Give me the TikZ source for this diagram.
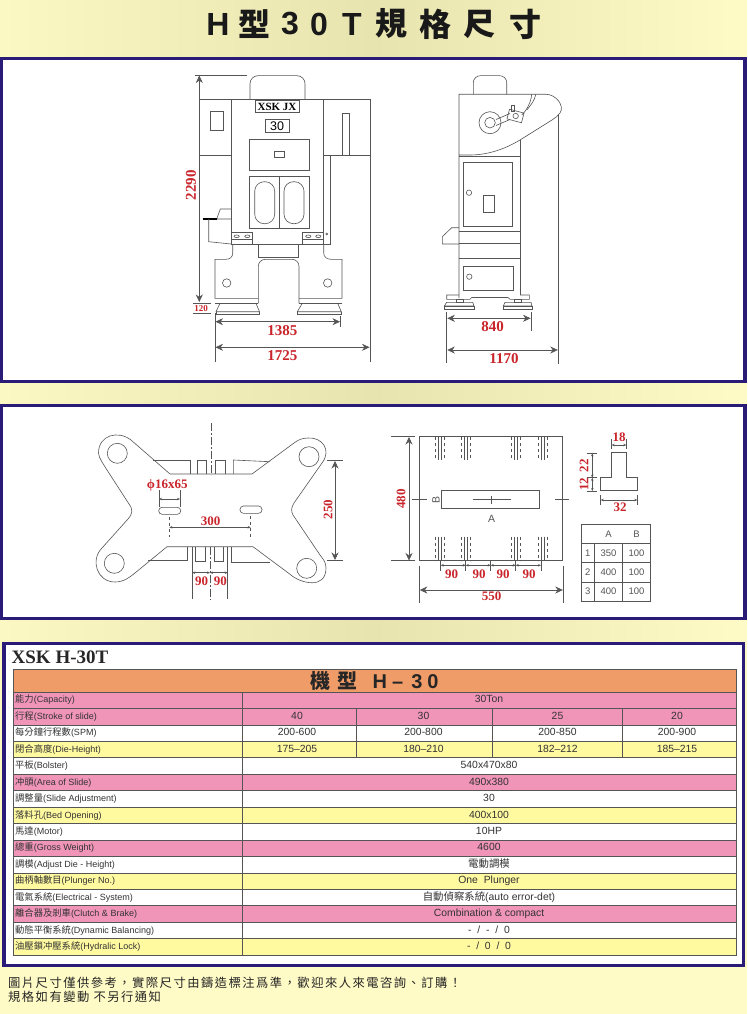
\documentclass[tikz,border=0pt]{standalone}
\usepackage{fontspec}
\usetikzlibrary{arrows.meta,positioning}
\setmainfont{Liberation Sans}
\newfontfamily\cjkfont{Noto Sans CJK TC}
\newfontfamily\cjkspaced[LetterSpace=12]{Noto Sans CJK TC}
\newfontfamily\dimfont{Liberation Serif}
\definecolor{bgpale}{HTML}{FCF8C4}
\definecolor{bgdull}{HTML}{E8E4B0}
\definecolor{bgbright}{HTML}{FFFBC6}
\definecolor{navy}{HTML}{2B1B78}
\definecolor{dimred}{HTML}{C9252B}
\definecolor{inkgray}{HTML}{555555}
\definecolor{rowhead}{HTML}{EF9C68}
\definecolor{rowpink}{HTML}{F094B8}
\definecolor{rowyellow}{HTML}{FFF9A0}
\definecolor{rowwhite}{HTML}{FFFFFF}
\begin{document}
\begin{tikzpicture}[x=1pt,y=-1pt,
  panel/.style={draw=navy,line width=3.4pt,fill=white},
  part/.style={draw=inkgray,line width=0.6pt},
  thin dim/.style={draw=inkgray,line width=0.5pt},
  bigarr/.style={draw=inkgray,line width=0.6pt,{Stealth[length=7.5pt,width=7pt]}-{Stealth[length=7.5pt,width=7pt]}},
  smallarr/.style={draw=inkgray,line width=0.5pt,{Stealth[length=3pt,width=2.5pt]}-{Stealth[length=3pt,width=2.5pt]}},
  dimtxt/.style={font=\dimfont\fontsize{13}{13}\selectfont\bfseries,text=dimred,inner sep=0pt},
  bigdim/.style={font=\dimfont\fontsize{15}{15}\selectfont\bfseries,text=dimred,inner sep=0pt},
  titlech/.style={font=\fontsize{32}{32}\selectfont\bfseries,text=black!90,inner sep=0pt},
  cell/.style={font=\fontsize{10.4}{10.4}\selectfont,text=black!80,inner sep=0pt,text height=7.5pt,text depth=2pt},
  rowlab/.style={font=\fontsize{9}{9}\selectfont,text=black!80,inner sep=0pt,anchor=west,text height=7.5pt,text depth=2pt},
  smallcell/.style={font=\fontsize{9.5}{9.5}\selectfont,text=inkgray,inner sep=0pt}
]
\useasboundingbox (0,0) rectangle (747,1014);

% Page background and the bands between the panels
\fill[bgpale] (0,0) rectangle (747,1014);
\shade[left color=bgpale,right color=bgbright,middle color=bgdull] (0,0) rectangle (747,57);
\shade[left color=bgpale,right color=bgbright,middle color=bgdull] (0,382) rectangle (747,406);
\shade[left color=bgpale,right color=bgbright,middle color=bgdull] (0,618) rectangle (747,644);
\fill[bgbright] (0,966) rectangle (747,1014);

% Title, one character at a time
\foreach \tx/\tc in {218/H,290/3,319/0,352/T}
  \node[titlech] (title\tx) at (\tx,24) {\tc};
\foreach \tx/\tc in {254/型,391/規,435/格,479/尺,525/寸}
  \node[titlech,font=\cjkfont\fontsize{32}{32}\selectfont\bfseries] (title\tx) at (\tx,24) {\tc};

% Three panels
\draw[panel] (1.5,58.5) rectangle (745,381.5);
\draw[panel] (1.5,405.5) rectangle (745,618.5);
\draw[panel] (4,643.5) rectangle (743.5,965.5);

% Front view: frame
\draw[part,rounded corners=8pt] (250,99.3) -- (250,75.7) -- (305,75.7) -- (305,99.3);
\draw[part] (199.3,99.3) rectangle (370,155.7);
\draw[part,fill=white] (231,99.3) rectangle (323.7,244);
\draw[part,fill=white] (255,100.5) rectangle (299,112.3);
\node[font=\dimfont\fontsize{11}{11}\selectfont\bfseries,inner sep=0pt] (frontbrand) at (277,106.5) {XSK JX};
\draw[part] (265,119.3) rectangle (289.3,132.7);
\node[font=\fontsize{12.5}{12.5}\selectfont,inner sep=0pt] (fronttons) at (277,126) {30};
\draw[part] (210.7,111) rectangle (223.3,130.3);
\draw[part] (342,113.3) rectangle (349.7,155.7);
\draw[part] (249,139.3) rectangle (309.3,170);
\draw[part] (274,151.3) rectangle (284.7,157.3);
\draw[part] (249,176.7) rectangle (309.3,228);
\draw[part] (279,176.7) -- (279,228);
\draw[part,rounded corners=9.5pt] (254.7,181.7) rectangle (274.7,223.7);
\draw[part,rounded corners=9.5pt] (284,181.7) rectangle (304,223.7);
\draw[part] (330.7,155.7) -- (330.7,244) -- (323.7,244);

% Front view: console on the left side
\draw[part] (231,209) -- (220.3,209) -- (216.7,219) -- (231,219);
\draw[draw=black,line width=1.4pt] (202.7,219) -- (216.7,219);
\draw[part] (208.7,219) -- (208.7,241.7) -- (231,244);

% Front view: clamp boxes and their studs
\draw[part] (231,232.7) rectangle (252.7,244);
\draw[part] (231,239) -- (252.7,239);
\draw[part] (302.3,232.7) rectangle (323.7,244);
\draw[part] (302.3,239) -- (323.7,239);
\foreach \sx in {236.7,247.3,308.3,318.3}
  \draw[part] (\sx,236.3) ellipse (2.6pt and 1.3pt);
\draw[part] (326.7,234) circle (1pt);

% Front view: base with arch
\draw[part] (258.3,244) rectangle (298.3,257.3);
\draw[part] (232.7,244) -- (232.7,253) .. controls (232.7,257) and (230,259.3) .. (226,259.3) -- (215,259.3) -- (215,298.3) -- (258.3,298.3);
\draw[part] (323.7,244) -- (323.7,253) .. controls (323.7,257) and (327,259.3) .. (331,259.3) -- (342,259.3) -- (342,298.3) -- (299,298.3);
\draw[part,rounded corners=7pt] (258.3,303.3) -- (258.3,259.3) -- (299,259.3) -- (299,303.3);
\draw[part] (226.7,283) circle (4.2pt);
\draw[part] (327.7,283) circle (4.2pt);

% Front view: feet
\draw[part] (215,303.3) -- (258.3,303.3);
\draw[part] (299,303.3) -- (342,303.3);
\draw[part] (220,303.3) -- (216,311.7) -- (259.5,311.7) -- (256,303.3);
\draw[part] (302.3,303.3) -- (297.3,311.7) -- (341.3,311.7) -- (337.7,303.3);
\draw[part] (216,314) -- (259.5,314) -- (259.5,311.7);
\draw[part] (216,314) -- (216,311.7);
\draw[part] (297.3,314) -- (341.3,314) -- (341.3,311.7);
\draw[part] (297.3,314) -- (297.3,311.7);

% Front view: dimensions
\draw[thin dim] (195,75) -- (247,75);
\draw[bigarr] (199.3,75.5) -- (199.3,302);
\node[bigdim,rotate=90] (dimH) at (191,185) {2290};
\draw[thin dim] (192.7,303.3) -- (210.7,303.3);
\draw[thin dim] (192.7,313.3) -- (210.7,313.3);
\node[dimtxt,font=\dimfont\fontsize{9}{9}\selectfont\bfseries] (dimFoot) at (201,308.3) {120};
\draw[thin dim] (215,313) -- (215,362);
\draw[thin dim] (340,316) -- (340,327);
\draw[thin dim] (370,155.7) -- (370,362);
\draw[bigarr] (215.5,321.7) -- (340,321.7);
\draw[bigarr] (215.5,347.3) -- (369.5,347.3);
\node[bigdim] (dimFront) at (282.3,330.7) {1385};
\node[bigdim] (dimWide) at (282.3,356) {1725};

% Side view: body with flywheel
\draw[part,rounded corners=7pt] (473.3,94.3) -- (473.3,75.7) -- (506.7,75.7) -- (506.7,94.3);
\draw[part] (459,298) -- (459,94.3) -- (546,94.3) .. controls (556,94.3) and (565,106) .. (560,113) .. controls (558,116) and (555,118) .. (552,120) -- (520,140) .. controls (505,149) and (488,155) .. (470,155) -- (459,155);
\draw[part] (520,140) -- (520,295);
\draw[part] (490,122.7) circle (11pt);
\draw[part] (490,122.7) circle (5.3pt);
\draw[part] (496,119.5) -- (510,113.5);
\draw[part] (496,125.5) -- (510,119.5);
\draw[part,rotate around={-15:(515.5,116)}] (508,111) rectangle (523,121);
\draw[part] (515.7,116) circle (2.7pt);
\draw[part] (511.7,105) rectangle (514.3,111);
\draw[part] (521.7,115) .. controls (527,110) and (531,102) .. (531.7,94.3);
\draw[part] (526.7,110) .. controls (531,105) and (535,100) .. (535.7,94.3);
\draw[thin dim] (558.3,115) -- (558.3,364);

% Side view: doors and console
\draw[part] (459,156.7) -- (520,156.7);
\draw[part] (463.7,162.3) rectangle (512.7,226.7);
\draw[part] (469,192.7) circle (2.7pt);
\draw[part] (483.3,195.7) rectangle (494.7,212.7);
\draw[part] (459,231.7) -- (520,231.7);
\draw[part] (459,243.3) -- (520,243.3);
\draw[part] (459,258.3) -- (520,258.3);
\draw[part] (459,227.7) -- (451.7,227.7) -- (442.3,236.7) -- (442.3,244) -- (459,244);
\draw[part] (463.3,266) rectangle (513.3,290);
\draw[part] (469.3,276.7) circle (2.7pt);

% Side view: feet
\draw[part] (459,295) -- (446.7,295) -- (446.7,299.3) -- (470,299.3) -- (471.7,297.5) -- (508,297.5) -- (510,299.3) -- (529.3,299.3) -- (529.3,295) -- (520,295);
\draw[part] (456,299.3) rectangle (463.3,302.3);
\draw[part] (514.3,299.3) rectangle (521.7,302.3);
\draw[part] (446.7,302.3) -- (472.7,302.3) -- (474,306) -- (444.3,306) -- cycle;
\draw[part] (444.3,306) rectangle (474,309.3);
\draw[part] (505,302.3) -- (531,302.3) -- (532,306) -- (503.3,306) -- cycle;
\draw[part] (503.3,306) rectangle (532,309.3);

% Side view: dimensions
\draw[thin dim] (446.7,312) -- (446.7,363);
\draw[thin dim] (531,312) -- (531,331);
\draw[bigarr] (447.3,318.3) -- (530.5,318.3);
\draw[bigarr] (447.3,350) -- (557.8,350);
\node[bigdim] (dimSide) at (492.7,326.5) {840};
\node[bigdim] (dimDeep) at (504,359) {1170};

% Bolster plan: outline and corner holes
\draw[part] (170,474) -- (131,440)
  .. controls (118,430) and (98.5,435) .. (98.5,453)
  .. controls (98.7,458) and (104,465) .. (107,470)
  -- (129,504) .. controls (133,510) and (133,513) .. (128,519)
  -- (102,548) .. controls (90,560) and (97,582) .. (115,582)
  .. controls (124,582) and (130,577) .. (135,573)
  -- (167,546.7) -- (253,546.7) -- (291,575)
  .. controls (300,583) and (326,590) .. (326,568)
  .. controls (326,562) and (323,559) .. (320,555)
  -- (293,515) .. controls (291,511) and (291,508) .. (294,503)
  -- (322,463) .. controls (332,450) and (322,437) .. (308,438)
  .. controls (302,438) and (298,440) .. (294,443)
  -- (252,474) -- cycle;
\foreach \hx/\hy in {117.3/453.3,309/456.7,114.3/563.3,306.7/568.3}
  \draw[part] (\hx,\hy) circle (10pt);

% Bolster plan: inner pockets
\draw[part] (153.3,460) -- (190,460) -- (190,474);
\draw[part] (197.3,474) -- (197.3,460) -- (206.7,460) -- (206.7,474);
\draw[part] (215.7,474) -- (215.7,460) -- (225.3,460) -- (225.3,474);
\draw[part] (233.3,474) -- (233.3,460) -- (270,461.7);
\draw[part,dash pattern=on 8pt off 2pt on 2pt off 2pt] (211,423) -- (211,475);
\draw[part] (148.3,560.7) -- (187.3,560.7) -- (187.3,546.7);
\draw[part] (192.3,546.7) -- (192.3,599);
\draw[part] (195,546.7) -- (195,561.7) -- (205.7,561.7) -- (205.7,546.7);
\draw[part] (214.3,546.7) -- (214.3,561.7) -- (223.3,561.7) -- (223.3,546.7);
\draw[part] (227.7,546.7) -- (227.7,599);
\draw[part] (231.7,546.7) -- (231.7,562.7) -- (270,562.7);
\draw[part,dash pattern=on 8pt off 2pt on 2pt off 2pt] (210,546.7) -- (210,599);
\draw[part,rounded corners=3.4pt] (158.7,507.3) rectangle (180.7,514.3);
\draw[part,rounded corners=3.4pt] (240,506) rectangle (262,513.3);

% Bolster plan: dimensions
\node[dimtxt] (dimSlot) at (167.3,485.3) {ϕ16x65};
\draw[thin dim] (159,490) -- (159,506.7);
\draw[thin dim] (180,490) -- (180,506.7);
\draw[smallarr] (159,499) -- (180,499);
\draw[part,dashed] (169.3,516.7) -- (169.3,536.7);
\draw[part,dashed] (250.7,516) -- (250.7,536.7);
\draw[smallarr] (169.3,527.3) -- (250.7,527.3);
\node[dimtxt] (dimPitch) at (210.7,521) {300};
\draw[thin dim] (326.7,460.7) -- (342.7,460.7);
\draw[thin dim] (326.7,560) -- (342.7,560);
\draw[bigarr] (335,461) -- (335,560);
\node[dimtxt,rotate=90] (dimDrop) at (328,509.3) {250};
\draw[smallarr] (192.3,572.7) -- (210,572.7);
\draw[smallarr] (210,572.7) -- (227.7,572.7);
\node[dimtxt] (dimLeft) at (201.7,581.5) {90};
\node[dimtxt] (dimRight) at (220.3,581.5) {90};

% Table plan: plate with slot and T-groove marks
\draw[part] (419.3,436.7) rectangle (562.7,560.7);
\draw[part] (441.7,490) rectangle (539.3,508.7);
\draw[part] (473.3,499) -- (511,499);
\draw[part] (491.7,495.7) -- (491.7,504);
\draw[part] (412.3,499) -- (426.7,499);
\draw[part] (555,499) -- (569.3,499);
\node[font=\fontsize{10.5}{10.5}\selectfont,rotate=90,inner sep=0pt,text=inkgray] (labB) at (436,500) {B};
\node[font=\fontsize{10.5}{10.5}\selectfont,inner sep=0pt,text=inkgray] (labA) at (491.7,519) {A};
\foreach \gx in {440,466,516,542.3}{
  \draw[thin dim] (\gx-1.5,436.7) -- (\gx-1.5,460);
  \draw[thin dim] (\gx+1.5,436.7) -- (\gx+1.5,460);
  \draw[thin dim,dashed] (\gx-4.5,436.7) -- (\gx-4.5,460);
  \draw[thin dim,dashed] (\gx+4.5,436.7) -- (\gx+4.5,460);
  \draw[thin dim] (\gx-1.5,536.7) -- (\gx-1.5,560.7);
  \draw[thin dim] (\gx+1.5,536.7) -- (\gx+1.5,560.7);
  \draw[thin dim,dashed] (\gx-4.5,536.7) -- (\gx-4.5,560.7);
  \draw[thin dim,dashed] (\gx+4.5,536.7) -- (\gx+4.5,560.7);
}

% Table plan: dimensions
\draw[thin dim] (391,436.7) -- (415,436.7);
\draw[thin dim] (391,560.7) -- (415,560.7);
\draw[bigarr] (409,437) -- (409,560.5);
\node[dimtxt,rotate=90] (dimBed) at (401,499) {480};
\foreach \ex in {440.7,465.7,490.7,515.7,541}
  \draw[thin dim] (\ex,560.7) -- (\ex,570.7);
\draw[smallarr] (440.7,565.3) -- (465.7,565.3);
\draw[smallarr] (465.7,565.3) -- (490.7,565.3);
\draw[smallarr] (490.7,565.3) -- (515.7,565.3);
\draw[smallarr] (515.7,565.3) -- (541,565.3);
\foreach \tx in {451.7,479,503,529}
  \node[dimtxt] (dimGap\tx) at (\tx,574.5) {90};
\draw[thin dim] (419.3,565.7) -- (419.3,602.7);
\draw[thin dim] (563.3,565.7) -- (563.3,602.7);
\draw[bigarr] (419.8,590) -- (562.8,590);
\node[dimtxt] (dimBedW) at (491.7,596.5) {550};

% T-slot section
\draw[part] (611.7,452.3) -- (626.3,452.3) -- (626.3,477.3) -- (637.3,477.3) -- (637.3,490.7) -- (600.7,490.7) -- (600.7,477.3) -- (611.7,477.3) -- cycle;
\draw[thin dim] (611.7,439.3) -- (611.7,449.3);
\draw[thin dim] (626.3,439.3) -- (626.3,449.3);
\draw[smallarr] (611.7,445) -- (626.3,445);
\node[dimtxt] (dimNeck) at (619,437.3) {18};
\draw[thin dim] (586.7,453.3) -- (597.3,453.3);
\draw[thin dim] (586.7,477.7) -- (597.3,477.7);
\draw[thin dim] (586.7,491) -- (597.3,491);
\draw[smallarr] (592.3,453.3) -- (592.3,477.7);
\draw[smallarr] (592.3,477.7) -- (592.3,491);
\node[dimtxt,rotate=90] (dimUpper) at (584,465.7) {22};
\node[dimtxt,rotate=90] (dimLower) at (584,484.3) {12};
\draw[thin dim] (600.7,495) -- (600.7,505);
\draw[thin dim] (637.3,495) -- (637.3,505);
\draw[smallarr] (600.7,500) -- (637.3,500);
\node[dimtxt] (dimFlange) at (620,507.5) {32};

% Small size table
\draw[part] (581,524.3) rectangle (650.3,601);
\foreach \ly in {543.7,562.7,582}
  \draw[part] (581,\ly) -- (650.3,\ly);
\draw[part] (594.3,543.7) -- (594.3,601);
\draw[part] (622.7,543.7) -- (622.7,601);
\node[smallcell] (headA) at (608.5,534) {A};
\node[smallcell] (headB) at (636.5,534) {B};
\foreach \rn/\ry/\va in {1/553/350,2/572.4/400,3/591.5/400}{
  \node[smallcell] (sn\rn) at (587.7,\ry) {\rn};
  \node[smallcell] (sa\rn) at (608.5,\ry) {\va};
  \node[smallcell] (sb\rn) at (636.5,\ry) {100};
}

% Spec table: heading
\node[dimtxt,font=\dimfont\fontsize{19}{19}\selectfont\bfseries,text=black!85,anchor=west] (specname) at (11.5,657) {XSK H-30T};
\draw[part,fill=rowhead] (13,669) rectangle (736,692);
\node[font=\fontsize{20}{20}\selectfont\bfseries,inner sep=0pt,text=black!85,anchor=west] (spechead) at (310.5,681) {{\cjkfont\bfseries 機\hspace{7pt}型}\hspace{15pt}H\hspace{5pt}--\hspace{8pt}3\hspace{5pt}0};

% Spec table: sixteen rows
\foreach \r/\rowcol/\cjk/\eng/\val in {
  0/rowpink/能力/Capacity/30Ton,
  1/rowpink/行程/Stroke of slide/{},
  2/rowwhite/每分鐘行程數/SPM/{},
  3/rowyellow/閉合高度/Die-Height/{},
  4/rowwhite/平板/Bolster/540x470x80,
  5/rowpink/冲頭/Area of Slide/490x380,
  6/rowwhite/調整量/Slide Adjustment/30,
  7/rowyellow/落料孔/Bed Opening/400x100,
  8/rowwhite/馬達/Motor/10HP,
  9/rowpink/總重/Gross Weight/4600,
  10/rowwhite/調模/Adjust Die - Height/{\cjkfont 電動調模},
  11/rowyellow/曲柄軸數目/Plunger No./{One\ \ Plunger},
  12/rowwhite/電氣系統/Electrical - System/{{\cjkfont 自動偵察系統}(auto error-det)},
  13/rowpink/離合器及剎車/Clutch \& Brake/{Combination \& compact},
  14/rowwhite/動態平衡系統/Dynamic Balancing/{-\ \ /\ \ -\ \ /\ \ 0},
  15/rowyellow/油壓鎖冲壓系統/Hydralic Lock/{-\ \ /\ \ 0\ \ /\ \ 0}}{
  \pgfmathsetmacro{\rowtop}{692+16.44*\r}
  \pgfmathsetmacro{\rowbot}{\rowtop+16.44}
  \pgfmathsetmacro{\rowmid}{\rowtop+8.22}
  \draw[part,fill=\rowcol] (13,\rowtop) rectangle (736,\rowbot);
  \draw[part] (242.5,\rowtop) -- (242.5,\rowbot);
  \node[rowlab] (lab\r) at (15,\rowmid) {{\cjkfont\fontsize{9.3}{9.3}\selectfont\cjk}(\eng)};
  \node[cell] (val\r) at (489,\rowmid) {\val};
}

% Spec table: rows split in four columns
\draw[part] (356.5,708.4) -- (356.5,757.8);
\draw[part] (492.7,708.4) -- (492.7,757.8);
\draw[part] (622.3,708.4) -- (622.3,757.8);
\foreach \cx/\sa/\sb/\sc in {297/40/200-600/175--205,423.5/30/200-800/180--210,557.5/25/200-850/182--212,677/20/200-900/185--215}{
  \node[cell] (st\sa) at (\cx,716.6) {\sa};
  \node[cell] (sp\sa) at (\cx,733.1) {\sb};
  \node[cell] (dh\sa) at (\cx,749.5) {\sc};
}

% Note under the panels
\node[anchor=west,inner sep=0pt,font=\cjkspaced\fontsize{12.3}{12.3}\selectfont,text=black!85] (noteA) at (8,982.5) {圖片尺寸僅供參考，實際尺寸由鑄造標注爲準，歡迎來人來電咨詢、訂購！};
\node[anchor=west,inner sep=0pt,font=\cjkspaced\fontsize{12.3}{12.3}\selectfont,text=black!85] (noteB) at (8,997) {規格如有變動\ 不另行通知};

\end{tikzpicture}
\end{document}
